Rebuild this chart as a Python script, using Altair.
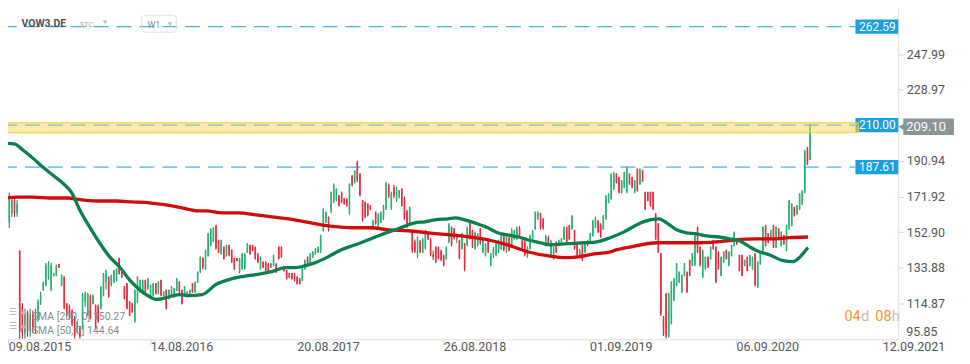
import json
import altair as alt
import pandas as pd

# ---------------- data ----------------
opens = [191,176,158,163,170,163,143,113,99,110,
         100,109,102,107,116,122,124.5,128,122,129.5,
         129.5,135.8,124.5,129,114.8,113.5,111,107,99.5,102.5,
         101,116,108.5,119,114.5,114,113.5,112,119,126,
         129,124.5,126,127,139,133.5,124,125.5,115.8,115,
         105,115.5,120.8,120,127.3,122.5,117.2,119,125.5,120,
         127.3,118.8,122,117.2,119,118,121.5,126.4,122,118.8,
         118,118.8,125.5,121,126,131.5,139,133,140,146,
         148,156.5,148.5,141,145,140,146,143.5,139,139,
         131.5,133,133.5,142,146,146,145,141.5,133,137,
         137,136,134,135,136,145,145,134.5,132.5,131,
         131,130.8,129,128.2,127,133,139.5,136,139.5,141,
         142,143,153.5,158,161,164,169,170,172.5,174,
         171,170.5,163,183,179,190.5,184,170,169,168,
         167,154.5,163.5,155.5,158,160,165,178,165.5,177,
         170,171.5,176,171,164,157,153,148,140,148,
         142,144,153,149,141,145,145,143,140.5,138.5,
         147.5,155.5,155,149,148.5,144,147,146,159,154,
         144,146,155,142,140.5,149.5,135,141,140.5,142.5,
         144,152,142.5,150,146,149.5,149.5,155,148.5,148,
         139.5,144,149.5,154.5,160,163,160,146,150,140.5,
         138.5,147.5,145.5,147.5,149,155.5,156.5,154.5,154,146.5,
         140.5,146,142,145.5,148.5,151,155.5,159,157,154.5,
         160,168.5,171,176,184,182,174,176.5,174,184,
         182,174,186.5,178.5,185.8,174.3,174.3,174.3,174.3,162.8,
         157.5,141.5,107.8,120,97,104,116.5,124.5,126,120.8,
         129.6,131.5,138,135,135,155.5,145,128.8,133,139.6,
         138.5,148.5,145,142.3,129.6,136.7,143.2,135,140.2,145.5,
         148.6,140.6,140.6,134.9,139.6,134.9,133.1,141.4,123.5,135.8,
         142,156.5,152.1,149.1,156.5,144.7,154.7,145.5,151.2,142.9,
         154.4,156.2,166.2,162.4,165,167.7,174,198.1,191.6]
highs = [192,187,174,172,171,170,143,115,112,111,
         112,111,112,117,121,126.5,136.4,137.3,136.4,131,
         135.5,136,130.2,129.3,115.1,114.2,111.6,108,105.3,102.7,
         120.4,121,120.4,119.5,119.5,114.2,114.2,124,131,132.8,
         129.3,130.2,132.8,133.7,139.1,133.7,124,125.7,116,115.1,
         122.2,129.3,127.5,127.5,127.5,128.4,124.9,125.7,125.7,126.6,
         127.5,121.3,122.2,122.2,124,123.1,128.4,126.6,122.2,124,
         121.3,122.2,125.7,126.6,131.9,139.9,139.5,143.5,152.4,155,
         155.5,156.8,148.8,148.8,145.2,146.1,146.1,143.5,139.1,139.1,
         139.1,141.7,141.7,147,146.1,146.1,145.2,141.7,139.9,137.3,
         137.3,136.4,136.4,140.8,136.4,145.2,145.2,134.6,132.8,131,
         131,131,129.3,128.4,133.7,138.2,139.9,141.7,142.6,144.4,
         145.2,151.5,165.6,163.9,161.2,174.5,178.9,176.3,172.7,174.5,
         171,171,178.9,183.4,186,191,184.3,170.1,169.2,168.3,
         167.4,159.4,163.9,163,163.9,167.4,179.8,178.9,174.5,178.1,
         177.2,175.4,176.3,171.8,164.7,166.5,154.1,148.8,150.5,148.8,
         149.7,154.1,153.2,149.7,143,145.2,145.2,143.5,140.8,145.2,
         157.7,155.9,155,152,148.8,152.4,147,155.9,159.4,154.1,
         153.2,152.4,155,149.7,147,149.7,141.7,145,147,148.8,
         152.4,152.4,151.5,150.5,155,154.1,155.9,156,148.8,148.8,
         145.2,151.5,154.1,163.9,163.9,163,160.3,151.5,151,148.8,
         145.2,148,148.8,149.7,155.9,155.9,156.8,162.1,154.1,147,
         144,146.1,147,148.8,152.4,159.4,161.2,159.4,157.7,162.1,
         172.7,173.6,184.3,185.1,184.3,182.5,180.7,185.1,187.8,184.3,
         182.5,180.7,186.9,186.9,186,174.5,174.5,174.5,174.5,163,
         157.7,141.7,108,120.4,120.4,126.6,128.4,136.4,131.9,130.2,
         136.4,131.9,138.2,141.7,151.5,155.9,145.2,143.5,139.9,139.9,
         145.2,148.8,145.2,142.6,139.9,142.6,143.5,142.6,146.1,153.2,
         148.8,140.8,140.8,138.2,139.9,140.8,139.9,141.7,137.3,141.7,
         155.9,156.8,152.4,154.1,156.8,155.9,155,153.2,151.5,156.8,
         170.1,168.3,166.5,167.4,173.6,175.4,196.7,198.4,210.8]
lows = [166,166,155,161,161,161,96,96,96,97,
        97,99,99,105,114,121.5,124,127.5,121.3,129.3,
        129.3,133.7,124,111.6,108,106.3,102.7,96,99.2,96,
        100.9,113,108,106.3,114.2,100.9,104.5,111.6,118.6,122.2,
        117.8,123.9,125.7,126.6,130.2,128.4,116.9,111.6,108,109.8,
        104.5,115.1,120.4,119.5,120.4,122.2,116.9,118.6,119.5,119.5,
        118.6,118.6,111.6,116.9,118.6,117.8,121.3,120.4,114.2,118.6,
        117.8,118.6,120.4,120.4,125.7,131,133,132.8,139.9,145.2,
        147.5,143.5,141.7,140.8,138.2,139.9,139.9,136.4,132.8,137.3,
        131,132.8,132.8,141.7,140.8,142.6,138.2,136.4,132.8,133.7,
        131.9,131,133.7,134.6,131,138.2,139.1,131.9,127.5,128.4,
        127.5,126.6,124.9,124.9,126.6,132.8,135.5,135.5,139.1,140.8,
        141.7,141.7,153.2,157.7,153.2,163,168.3,169.2,166.5,168.3,
        167.4,166.5,162.1,177.2,178.9,179.6,171.8,158.5,160.3,161.2,
        164.7,154.1,156.8,155,157.7,159.4,164.7,171,164.7,171,
        169.2,171,166.5,159.4,155,156.8,141.7,141.7,139.1,141.7,
        141.7,143.5,148.8,139.9,138,136.4,138.2,137.3,134.6,138.2,
        147,145.2,148.8,147,138.2,143.5,131.9,145.2,148.8,144.4,
        143.5,145.2,146.1,141.7,139.9,141.7,134.6,139,139.9,141.7,
        143.5,142.6,141.7,142.6,145.2,148.8,148.8,150,143.5,139.9,
        139.1,143.5,148.8,154.1,159.4,154.1,154.1,145.2,146,139.9,
        138.2,141.7,145.2,147,148.8,147,148.8,154.1,143.5,139.9,
        139,137.3,141.7,145.2,148,150.5,155,152.4,149.7,154.1,
        159.4,168.3,170.1,175.4,178.9,173.6,173.6,176.3,173.6,178.1,
        176.3,173.6,174.5,178.1,179.8,164.7,169.2,166.5,164.7,148.8,
        141.7,108,97.4,96,96.5,103.6,116,124,125.7,120.4,
        129.3,120.4,129.3,134.6,134.6,141.7,134.6,128.4,132.8,133.7,
        138.2,143.5,125.7,132.8,129.3,136.4,138.2,134.6,139.9,145.2,
        146.1,131.9,129.3,134.6,131.9,134.6,132.8,124,123.1,135.5,
        141.7,145.2,147,148.8,144.4,144.4,149.7,145.2,146.1,142.6,
        154.1,155.9,161.2,162.1,164.7,167.4,173.6,188.7,191.3]
closes = [176,168,171,170,163,168,100,99,110,100,
          109,102,107,116,119,126,135,136.5,135,130.8,
          135,134,130,112.5,108.5,107,103.5,97.5,105,97,
          119.5,120,120,107,119,102,105,123.5,130.5,132.5,
          118.5,130,132.5,133.5,130.5,128.7,117.2,112,108.3,110,
          122,129,127.3,127,120.8,128,124.5,125.5,119.8,126.3,
          119,121,112,122,123.8,122.8,128,120.7,114.5,123.8,
          121,122,121,126,131.5,139.5,134,143,152,154.5,
          155,144,142,148.5,138.5,146,140.5,137,133,137.5,
          139,141.5,141,146.5,141,143,138.5,136.8,139.5,134,
          132.2,131.5,136,140.5,131.5,138.5,139.5,132,128,128.6,
          127.8,127,125.2,125.1,133.5,138,136,141.5,142.5,144,
          145,151,165,163.5,154,174,178,176,167,169,
          168,167,178.5,178,185.5,180.5,172.5,159.5,161,162,
          165,159,157.5,162.5,163.5,167,179,172,173.5,172,
          176,175,167,160,156,166,143,142.5,150,142,
          149,153,149,141,139.5,137,139,138,135,144.5,
          157,146,149.5,151,139,151.5,133,155,149.5,145,
          152.5,151.5,147,149,146.5,142.5,141,144,146.5,148,
          152,143.5,151,143,154,153.5,155,151,144,140.5,
          144.5,151,153.5,163.5,163.5,155,155,151,147,148,
          144.5,142,148.5,149.5,155.5,147.5,149,161.5,144,140.5,
          143,138,146.5,148.5,152,159,160.5,153,150.5,161.5,
          172,173,184,184.5,179.2,174,180.3,184.8,187,178.4,
          176.6,180.4,175,186.5,180,165,169.5,166.8,165,149,
          142,109,98,97,120,126,128,136,131.5,130,
          136,120.8,129.6,141.4,151,142,135,143,139.6,134,
          145,143.8,126,133,139.6,142.3,138.5,142.3,145.8,152.8,
          146.4,132.2,129.6,138,132.2,140.5,139.6,124.5,137,141.4,
          155.6,145.5,147.3,153.8,144.7,155.6,150,152.9,146.4,156.5,
          169.8,168,161.5,167.1,173.3,175.1,196.4,189,209.1]

sma50_idx = [-0.4,4.2,7.2,11,14.8,18.6,22.4,25.9,28.9,32.7,36.5,40.3,44.1,47.9,
             51.7,55.5,58.2,62,66.9,70.7,75.7,81,85.9,90.9,96.2,102.3,107.6,111.4,
             115.2,119,124,128.9,134.2,139.2,144.1,150.6,157,160.8,164.6,169.6,172.6,
             176,179.8,184.8,188.6,192.4,196.2,200,205,208.7,215.2,221.7,226.6,231.6,
             236.9,241.8,246.8,250.2,253.2,257,260.8,264.6,268.4,272.2,277.2,281,
             284.8,288.6,292.4,297.7,301.5,303.8,307.2]
sma50_val = [200.4,199.9,196.7,192.4,187.6,183.4,179.1,173.8,164.8,155.7,147.2,139.8,
             134.4,127.5,122.2,118.5,116.9,117.9,119.5,119.0,119.5,124.9,127.5,129.1,
             130.2,131.8,133.9,133.9,135.0,136.6,139.8,143.5,146.1,148.8,151.5,154.7,
             157.8,158.4,159.4,160.0,160.5,159.4,157.8,155.2,152.5,151.4,150.4,148.8,
             147.2,146.1,146.7,147.2,147.7,149.9,153.0,156.8,159.4,160.0,157.8,154.1,
             152.5,152.0,150.9,150.4,149.3,148.3,145.1,142.4,140.8,137.6,137.1,139.2,
             144.64]
sma200_idx = [-0.4,4.9,11,17.5,24,30,36.5,43,49,55.5,62,68,74.5,77.2,83.3,89.7,96.2,
              102.3,108.7,115.2,121.3,127.8,134.2,140.3,146.8,154.4,162,169.6,177.2,
              184.8,192.4,200,207.6,215.2,220.2,225.5,230.4,234.2,241.8,249.4,257,
              264.6,272.2,279.8,287.5,295,300,307.2]
sma200_val = [171.1,171.6,171.6,171.1,171.1,170.1,169.5,169.5,169.0,168.5,167.4,165.8,
              164.2,164.2,163.1,163.1,162.1,161.0,159.9,158.4,156.8,155.7,155.2,155.2,
              154.1,153.6,152.5,151.5,150.4,148.8,146.1,142.4,140.3,139.2,139.8,141.3,
              141.9,143.5,145.6,147.2,147.2,147.2,147.7,148.8,149.3,149.3,149.9,150.27]

price_ticks = [114.87, 133.88, 152.90, 171.92, 190.94, 228.97, 247.99]
bottom_tick = [95.85]
date_ticks = [1.6, 55.9, 111.9, 167.8, 223.7, 279.7, 335.6]
date_labels = ["09.08.2015", "14.08.2016", "20.08.2017", "26.08.2018",
               "01.09.2019", "06.09.2020", "12.09.2021"]
blue_levels = [262.59, 210.00, 187.61]
current_price = [209.10]
zone = [205.97, 211.29]
sma200_last = 150.27
sma50_last = 144.64
symbol = "VOW3.DE"
interval = "W1"

# ---------------- build ----------------
FONT = "Roboto"
xs = alt.Scale(domain=[-1.52, 341.7], nice=False, zero=False)
ys = alt.Scale(domain=[95.6, 276.45], nice=False, zero=False)

candles = pd.DataFrame({"idx": list(range(len(opens))), "o": opens, "h": highs,
                        "l": lows, "c": closes})
sma50 = pd.DataFrame({"i": sma50_idx, "v": sma50_val})
sma200 = pd.DataFrame({"i": sma200_idx, "v": sma200_val})
levels = pd.DataFrame({"level": blue_levels})
dash_levels = pd.DataFrame({"level": [blue_levels[0], blue_levels[2]]})
mid_level = pd.DataFrame({"level": [blue_levels[1]]})
cur = pd.DataFrame({"level": current_price})
zone_df = pd.DataFrame({"lo": [zone[0]], "hi": [zone[1]]})
bot = pd.DataFrame({"level": bottom_tick})
one = pd.DataFrame({"k": [0]})

label_expr = f"{json.dumps(date_labels)}[indexof({json.dumps(date_ticks)}, datum.value)]"

x_axis = alt.Axis(values=date_ticks, labelExpr=label_expr, tickSize=5, tickColor="#d4d4d4",
                  domain=False, grid=False, labelAlign="left", labelPadding=-4,
                  labelFont=FONT, labelFontSize=12.5, labelColor="#555555",
                  labelFlush=False, labelOverlap=False, labelBound=False, title=None)
y_axis = alt.Axis(orient="right", values=price_ticks, format=".2f", tickSize=5,
                  tickColor="#d4d4d4", domain=False, grid=False, labelPadding=3,
                  labelFont=FONT, labelFontSize=12.5, labelColor="#555555",
                  labelFlush=False, labelOverlap=False, title=None)


def X(field):
    return alt.X(field, scale=xs, axis=x_axis)


def Y(field):
    return alt.Y(field, scale=ys, axis=y_axis)


up_cond = "datum.c >= datum.o"

dashes = alt.Chart(dash_levels).mark_rule(color="#1a9ee2", strokeWidth=1,
                                          strokeDash=[15, 8]).encode(
    y=Y("level:Q"), x=alt.value(2), x2=alt.value(859))
mid_dash = alt.Chart(mid_level).mark_rule(color="#1a9ee2", strokeWidth=1.2,
                                          strokeDash=[15, 8]).encode(
    y=Y("level:Q"), x=alt.value(2), x2=alt.value(859))

wicks = alt.Chart(candles).mark_rule(strokeWidth=1).encode(
    x=X("idx:Q"), y=Y("l:Q"), y2="h:Q",
    color=alt.condition(up_cond, alt.value("#12804d"), alt.value("#b5172c")))
bodies = alt.Chart(candles).mark_rule(strokeWidth=1.6).encode(
    x=X("idx:Q"), y=Y("o:Q"), y2="c:Q",
    color=alt.condition(up_cond, alt.value("#27b474"), alt.value("#f0283d")))

line200 = alt.Chart(sma200).mark_line(color="#d10a0a", strokeWidth=3.3,
                                      interpolate="monotone").encode(
    x=X("i:Q"), y=Y("v:Q"))
line50 = alt.Chart(sma50).mark_line(color="#0b7f4e", strokeWidth=3.3,
                                    interpolate="monotone").encode(
    x=X("i:Q"), y=Y("v:Q"))

boxes = alt.Chart(levels).transform_calculate(
    lo="datum.level - 3.8", hi="datum.level + 3.8").mark_rect(color="#19a0e4").encode(
    y=Y("lo:Q"), y2="hi:Q", x=alt.value(859), x2=alt.value(902))
box_text = alt.Chart(levels).mark_text(color="white", font=FONT, fontSize=12,
                                       align="center", baseline="middle").encode(
    y=Y("level:Q"), x=alt.value(881),
    text=alt.Text("level:Q", format=".2f"))

band = alt.Chart(zone_df).mark_rect(fill="#fbd55a", fillOpacity=0.5, stroke="#f1cb3a",
                                    strokeWidth=1).encode(
    y=Y("lo:Q"), y2="hi:Q", x=alt.value(0), x2=alt.value(862))

cur_box = alt.Chart(cur).transform_calculate(
    lo="datum.level - 4.4", hi="datum.level + 4.4").mark_rect(color="#8b9497").encode(
    y=Y("lo:Q"), y2="hi:Q", x=alt.value(907), x2=alt.value(958))
cur_arrow = alt.Chart(cur).mark_point(shape="triangle-left", filled=True, size=45,
                                      color="#8b9497", opacity=1).encode(
    y=Y("level:Q"), x=alt.value(905))
cur_text = alt.Chart(cur).mark_text(color="white", font=FONT, fontSize=13,
                                    align="left", baseline="middle").encode(
    y=Y("level:Q"), x=alt.value(910),
    text=alt.Text("level:Q", format=".2f"))

bottom_label = alt.Chart(bot).mark_text(color="#555555", font=FONT, fontSize=12.5,
                                        align="left", baseline="middle", dy=-6.5).encode(
    y=Y("level:Q"), x=alt.value(910),
    text=alt.Text("level:Q", format=".2f"))


def txt(s, x, y, size, color, weight="normal", align="left"):
    return alt.Chart(one).mark_text(text=s, align=align, baseline="middle", fontSize=size,
                                    color=color, fontWeight=weight, font=FONT).encode(
        x=alt.value(x), y=alt.value(y))


def tri(x, y, size=22, color="#bdbdbd"):
    return alt.Chart(one).mark_point(shape="triangle-down", filled=True, size=size,
                                     color=color, opacity=1).encode(
        x=alt.value(x), y=alt.value(y))


w1_box = alt.Chart(one).mark_rect(fill="white", fillOpacity=0, stroke="#dddddd",
                                  strokeWidth=1, cornerRadius=3).encode(
    x=alt.value(142.5), x2=alt.value(177), y=alt.value(14.5), y2=alt.value(31.5))

header = [
    txt(symbol, 21.5, 23.5, 10.5, "#4e5358", weight="bold"),
    txt("STC", 80, 24, 7.5, "#a3a3a3"),
    tri(105.5, 21.5),
    w1_box,
    txt(interval, 148, 24, 9, "#8a8a8a"),
    tri(170.5, 23.5),
]
legend = [
    txt("☰", 9, 313, 9, "#b0b0b0"),
    txt("◉", 21, 313, 6.5, "#c0c0c0"),
    txt(f"SMA [200, 0] {sma200_last:.2f}", 32, 318, 10.5, "#8a8a8a"),
    txt("☰", 9, 327, 9, "#b0b0b0"),
    txt("◉", 21, 327, 6.5, "#c0c0c0"),
    txt(f"SMA [50, 0] {sma50_last:.2f}", 32, 332, 10.5, "#8a8a8a"),
]
countdown = [
    txt("04", 848, 318, 14.5, "#f7941d"),
    txt("d", 864.5, 318, 14.5, "#bdbdbd"),
    txt("08", 879, 318, 14.5, "#f7941d"),
    txt("h", 895.5, 318, 14.5, "#bdbdbd"),
]

chart = alt.layer(
    dashes, mid_dash, wicks, bodies, line200, line50,
    boxes, band, box_text, cur_box, cur_arrow, cur_text, bottom_label,
    *header, *legend, *countdown
).properties(
    width=902, height=340,
    autosize=alt.AutoSizeParams(type="none"),
    padding={"left": -8, "top": -8, "right": 64, "bottom": 20},
).configure_view(strokeWidth=0).configure(background="white")

chart.save("out.html", embed_options={"renderer": "svg", "actions": False})
